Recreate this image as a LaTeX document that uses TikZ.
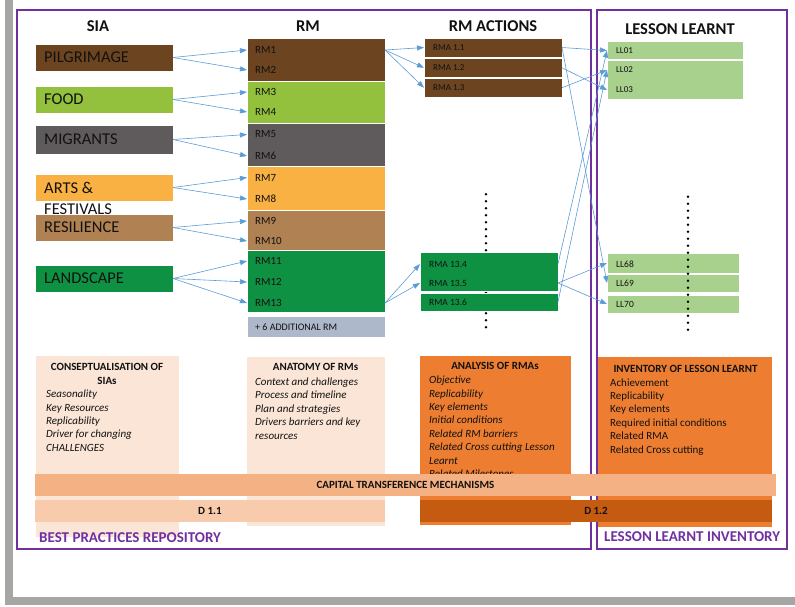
\documentclass[tikz,border=0pt]{standalone}
\usepackage{fontspec}
\setmainfont{Carlito}
\usetikzlibrary{arrows.meta}
\definecolor{cpil}{HTML}{6C4520}
\definecolor{cfood}{HTML}{93C13E}
\definecolor{cmig}{HTML}{5F5A5C}
\definecolor{carts}{HTML}{F8B142}
\definecolor{cres}{HTML}{B08152}
\definecolor{cland}{HTML}{0F9143}
\definecolor{caddrm}{HTML}{ADB8CA}
\definecolor{cllg}{HTML}{A9D18E}
\definecolor{corg}{HTML}{ED7D31}
\definecolor{cpeach}{HTML}{FBE5D6}
\definecolor{cctm}{HTML}{F4B183}
\definecolor{cdA}{HTML}{F8CBAD}
\definecolor{cdB}{HTML}{C55A11}
\definecolor{cpurp}{HTML}{7030A0}
\definecolor{carrow}{HTML}{5B9BD5}
\definecolor{cgrayfr}{HTML}{A6A6A4}
\definecolor{cink}{HTML}{111111}
\begin{document}
\begin{tikzpicture}[x=1pt,y=-1pt,
  bx/.style={anchor=north west, inner sep=0pt, outer sep=0pt, draw=white, line width=0.6pt},
  bar/.style={anchor=north west, inner sep=0pt, outer sep=0pt, font=\fontsize{11}{13}\selectfont\bfseries, text=cink},
  hdr/.style={inner sep=0pt, font=\fontsize{16.5}{20}\selectfont\bfseries, text=cink},
  siat/.style={anchor=west, inner sep=0pt, font=\fontsize{16.5}{20}\selectfont, text=cink},
  rml/.style={anchor=west, inner xsep=8pt, inner ysep=0pt, font=\fontsize{11}{13}\selectfont, text=cink},
  rmal/.style={anchor=west, inner xsep=9pt, inner ysep=0pt, font=\fontsize{9}{11}\selectfont, text=cink},
  rmbl/.style={anchor=west, inner xsep=9pt, inner ysep=0pt, font=\fontsize{9.5}{11}\selectfont, text=cink},
  ttl/.style={inner sep=0pt, font=\fontsize{11}{13}\selectfont\bfseries, text=cink},
  items/.style={anchor=north west, inner sep=0pt, align=left, font=\fontsize{11}{13.4}\selectfont, text=cink},
  ftitle/.style={anchor=west, inner sep=0pt, font=\fontsize{15}{18}\selectfont\bfseries, text=cpurp},
  link/.style={draw=carrow, line width=0.6pt, -{Triangle[length=7pt,width=5pt]}},
  dotline/.style={draw=black, line width=2.8pt, line cap=round, dash pattern=on 0pt off 7pt},
]
\useasboundingbox (0,0) rectangle (795,606);
% gray outer frame
\draw[cgrayfr, line width=8pt, line join=miter] (9,-8) -- (9,601) -- (803,601);
% purple frames
\draw[cpurp, line width=2.5pt] (17,10) rectangle (591,549);
\draw[cpurp, line width=2.5pt] (597,10) rectangle (787,549);

% headers
\node[hdr] (hsia) at (98,26) {SIA};
\node[hdr] (hrm) at (308,26) {RM};
\node[hdr] (hrma) at (493,26) {RM ACTIONS};
\node[hdr] (hll) at (680,29) {LESSON LEARNT};

% SIA boxes
\node[bx, fill=cpil, minimum width=138pt, minimum height=27pt] (pil) at (35,44) {};
\node[siat] (pilt) at (44,57.5) {PILGRIMAGE};
\node[bx, fill=cfood, minimum width=138pt, minimum height=27pt] (food) at (35,86) {};
\node[siat] (foodt) at (44,99.5) {FOOD};
\node[bx, fill=cmig, minimum width=138pt, minimum height=29pt] (mig) at (35,125) {};
\node[siat] (migt) at (44,139.5) {MIGRANTS};
\node[bx, fill=carts, minimum width=138pt, minimum height=27pt] (arts) at (35,174) {};
\node[siat, anchor=base west] (artst) at (44,193.5) {ARTS \&};
\node[siat, anchor=base west] (festt) at (44,214) {FESTIVALS};
\node[bx, fill=cres, minimum width=138pt, minimum height=27pt] (res) at (35,214) {};
\node[siat] (rest) at (44,227.5) {RESILIENCE};
\node[bx, fill=cland, minimum width=138pt, minimum height=27pt] (land) at (35,265) {};
\node[siat] (landt) at (44,278.5) {LANDSCAPE};

% RM blocks
\node[bx, fill=cpil, minimum width=138pt, minimum height=43pt] (rmb1) at (247,38) {};
\node[bx, fill=cfood, minimum width=138pt, minimum height=41.5pt] (rmb2) at (247,81.5) {};
\node[bx, fill=cmig, minimum width=138pt, minimum height=42.5pt] (rmb3) at (247,123.5) {};
\node[bx, fill=carts, minimum width=138pt, minimum height=43.5pt] (rmb4) at (247,166.5) {};
\node[bx, fill=cres, minimum width=138pt, minimum height=40pt] (rmb5) at (247,210) {};
\node[bx, fill=cland, minimum width=138pt, minimum height=62.5pt] (rmb6) at (247,250) {};
\node[bx, fill=caddrm, minimum width=138pt, minimum height=21pt] (rmadd) at (247,316) {};
\node[rml, font=\fontsize{10}{12}\selectfont] (rmaddt) at (247,327) {+ 6 ADDITIONAL RM};

\node[rml] (rm1) at (247,50) {RM1};
\node[rml] (rm2) at (247,70) {RM2};
\node[rml] (rm3) at (247,92) {RM3};
\node[rml] (rm4) at (247,112) {RM4};
\node[rml] (rm5) at (247,134.5) {RM5};
\node[rml] (rm6) at (247,156) {RM6};
\node[rml] (rm7) at (247,177.5) {RM7};
\node[rml] (rm8) at (247,199) {RM8};
\node[rml] (rm9) at (247,221) {RM9};
\node[rml] (rm10) at (247,241) {RM10};
\node[rml] (rm11) at (247,261) {RM11};
\node[rml] (rm12) at (247,282) {RM12};
\node[rml] (rm13) at (247,303) {RM13};

% RM actions dotted line (behind boxes)
\draw[dotline] (486,194.3) -- (486,334);

% RMA boxes
\node[bx, fill=cpil, minimum width=138pt, minimum height=19pt] (rma11) at (424,38) {};
\node[rmal] (rma11t) at (424,47.5) {RMA 1.1};
\node[bx, fill=cpil, minimum width=138pt, minimum height=18.5pt] (rma12) at (424,58.5) {};
\node[rmal] (rma12t) at (424,67.75) {RMA 1.2};
\node[bx, fill=cpil, minimum width=138pt, minimum height=18.5pt] (rma13) at (424,78.5) {};
\node[rmal] (rma13t) at (424,87.75) {RMA 1.3};

\node[bx, fill=cland, minimum width=138pt, minimum height=39pt] (rmab13) at (420,252) {};
\node[rmbl] (rma134) at (420,264) {RMA 13.4};
\node[rmbl] (rma135) at (420,283) {RMA 13.5};
\node[bx, fill=cland, minimum width=138pt, minimum height=18pt] (rma136) at (420,293) {};
\node[rmbl] (rma136t) at (420,302.5) {RMA 13.6};

% Lesson learnt boxes
\node[bx, fill=cllg, minimum width=136pt, minimum height=18pt] (ll01) at (607,41) {};
\node[rmal] (ll01t) at (607,50.5) {LL01};
\node[bx, fill=cllg, minimum width=136pt, minimum height=39pt] (llb23) at (607,60) {};
\node[rmal] (ll02) at (607,70) {LL02};
\node[rmal] (ll03) at (607,90) {LL03};
\node[bx, fill=cllg, minimum width=132pt, minimum height=20pt] (ll68) at (607,253) {};
\node[rmbl] (ll68t) at (607,264) {LL68};
\node[bx, fill=cllg, minimum width=132pt, minimum height=18pt] (ll69) at (607,274) {};
\node[rmbl] (ll69t) at (607,283.5) {LL69};
\node[bx, fill=cllg, minimum width=132pt, minimum height=18pt] (ll70) at (607,295) {};
\node[rmbl] (ll70t) at (607,304) {LL70};
\draw[dotline] (688,196.7) -- (688,334);

% connectors SIA -> RM
\draw[link] (pil.east) -- (rm1.west);
\draw[link] (pil.east) -- (rm2.west);
\draw[link] (food.east) -- (rm3.west);
\draw[link] (food.east) -- (rm4.west);
\draw[link] (mig.east) -- (rm5.west);
\draw[link] (mig.east) -- (rm6.west);
\draw[link] (arts.east) -- (rm7.west);
\draw[link] (arts.east) -- (rm8.west);
\draw[link] (res.east) -- (rm9.west);
\draw[link] (res.east) -- (rm10.west);
\draw[link] (land.east) -- (rm11.west);
\draw[link] (land.east) -- (rm12.west);
\draw[link] (land.east) -- (rm13.west);
% RM -> RMA
\coordinate (rm1o) at (rmb1.east |- rm1.west);
\coordinate (rm13o) at (rmb6.east |- rm13.west);
\draw[link] (rm1o) -- (rma11.west);
\draw[link] (rm1o) -- (rma12.west);
\draw[link] (rm1o) -- (rma13.west);
\draw[link] (rm13o) -- (rma134.west);
\draw[link] (rm13o) -- (rma135.west);
% RMA -> LL
\coordinate (rma134o) at (rmab13.east |- rma134.west);
\coordinate (rma135o) at (rmab13.east |- rma135.west);
\draw[link] (rma11.east) -- (ll01t.west);
\draw[link] (rma11.east) -- (ll69.west);
\draw[link] (rma12.east) -- (ll03.west);
\draw[link] (rma13.east) -- (ll02.west);
\draw[link] (rma134o) -- (ll01t.west);
\draw[link] (rma136.east) -- (ll02.west);
\draw[link] (rma135o) -- (ll68.west);
\draw[link] (rma135o) -- (ll70.west);

% bottom description boxes
\node[bx, draw=none, fill=cpeach, minimum width=143pt, minimum height=181pt] (cons) at (36,356) {};
\node[bx, draw=none, fill=cpeach, minimum width=138pt, minimum height=169pt] (anat) at (247,356.7) {};
\node[bx, draw=none, fill=corg, minimum width=151pt, minimum height=169pt] (anal) at (420,356) {};
\node[bx, draw=none, fill=corg, minimum width=174pt, minimum height=170pt] (inv) at (598,356.7) {};

\node[ttl] (consh1) at (107,366.7) {CONSEPTUALISATION OF};
\node[ttl] (consh2) at (107,381) {SIAs};
\node[items, font=\fontsize{11}{13.4}\selectfont\itshape] (consi) at (46,388.2) {\strut Seasonality\\Key Resources\\Replicability\\Driver for changing\\CHALLENGES};

\node[ttl] (anath) at (315.5,366.7) {ANATOMY OF RMs};
\node[items, font=\fontsize{11}{13.4}\selectfont\itshape] (anati) at (255,375.9) {\strut Context and challenges\\Process and timeline\\Plan and strategies\\Drivers barriers and key\\resources};

\node[ttl] (analh) at (495,366) {ANALYSIS OF RMAs};
\node[items, font=\fontsize{11}{13.4}\selectfont\itshape] (anali) at (429,374.2) {\strut Objective\\Replicability\\Key elements\\Initial conditions\\Related RM barriers\\Related Cross cutting Lesson\\Learnt\\Related Milestones};

\node[ttl] (invh) at (685.5,369.3) {INVENTORY OF LESSON LEARNT};
\node[items] (invi) at (610,376.5) {\strut Achievement\\Replicability\\Key elements\\Required initial conditions\\Related RMA\\Related Cross cutting};

% bars
\node[bar, fill=cctm, minimum width=741pt, minimum height=22pt] (ctm) at (35,474) {CAPITAL TRANSFERENCE MECHANISMS};
\node[bar, fill=cdA, minimum width=350pt, minimum height=22pt] (d11) at (35,500) {D 1.1};
\node[bar, fill=cdB, minimum width=352pt, minimum height=22pt] (d12) at (420,500) {D 1.2};

% frame titles
\node[ftitle] (bpr) at (39,538) {BEST PRACTICES REPOSITORY};
\node[ftitle] (lli) at (604,536.7) {LESSON LEARNT INVENTORY};
\end{tikzpicture}
\end{document}
